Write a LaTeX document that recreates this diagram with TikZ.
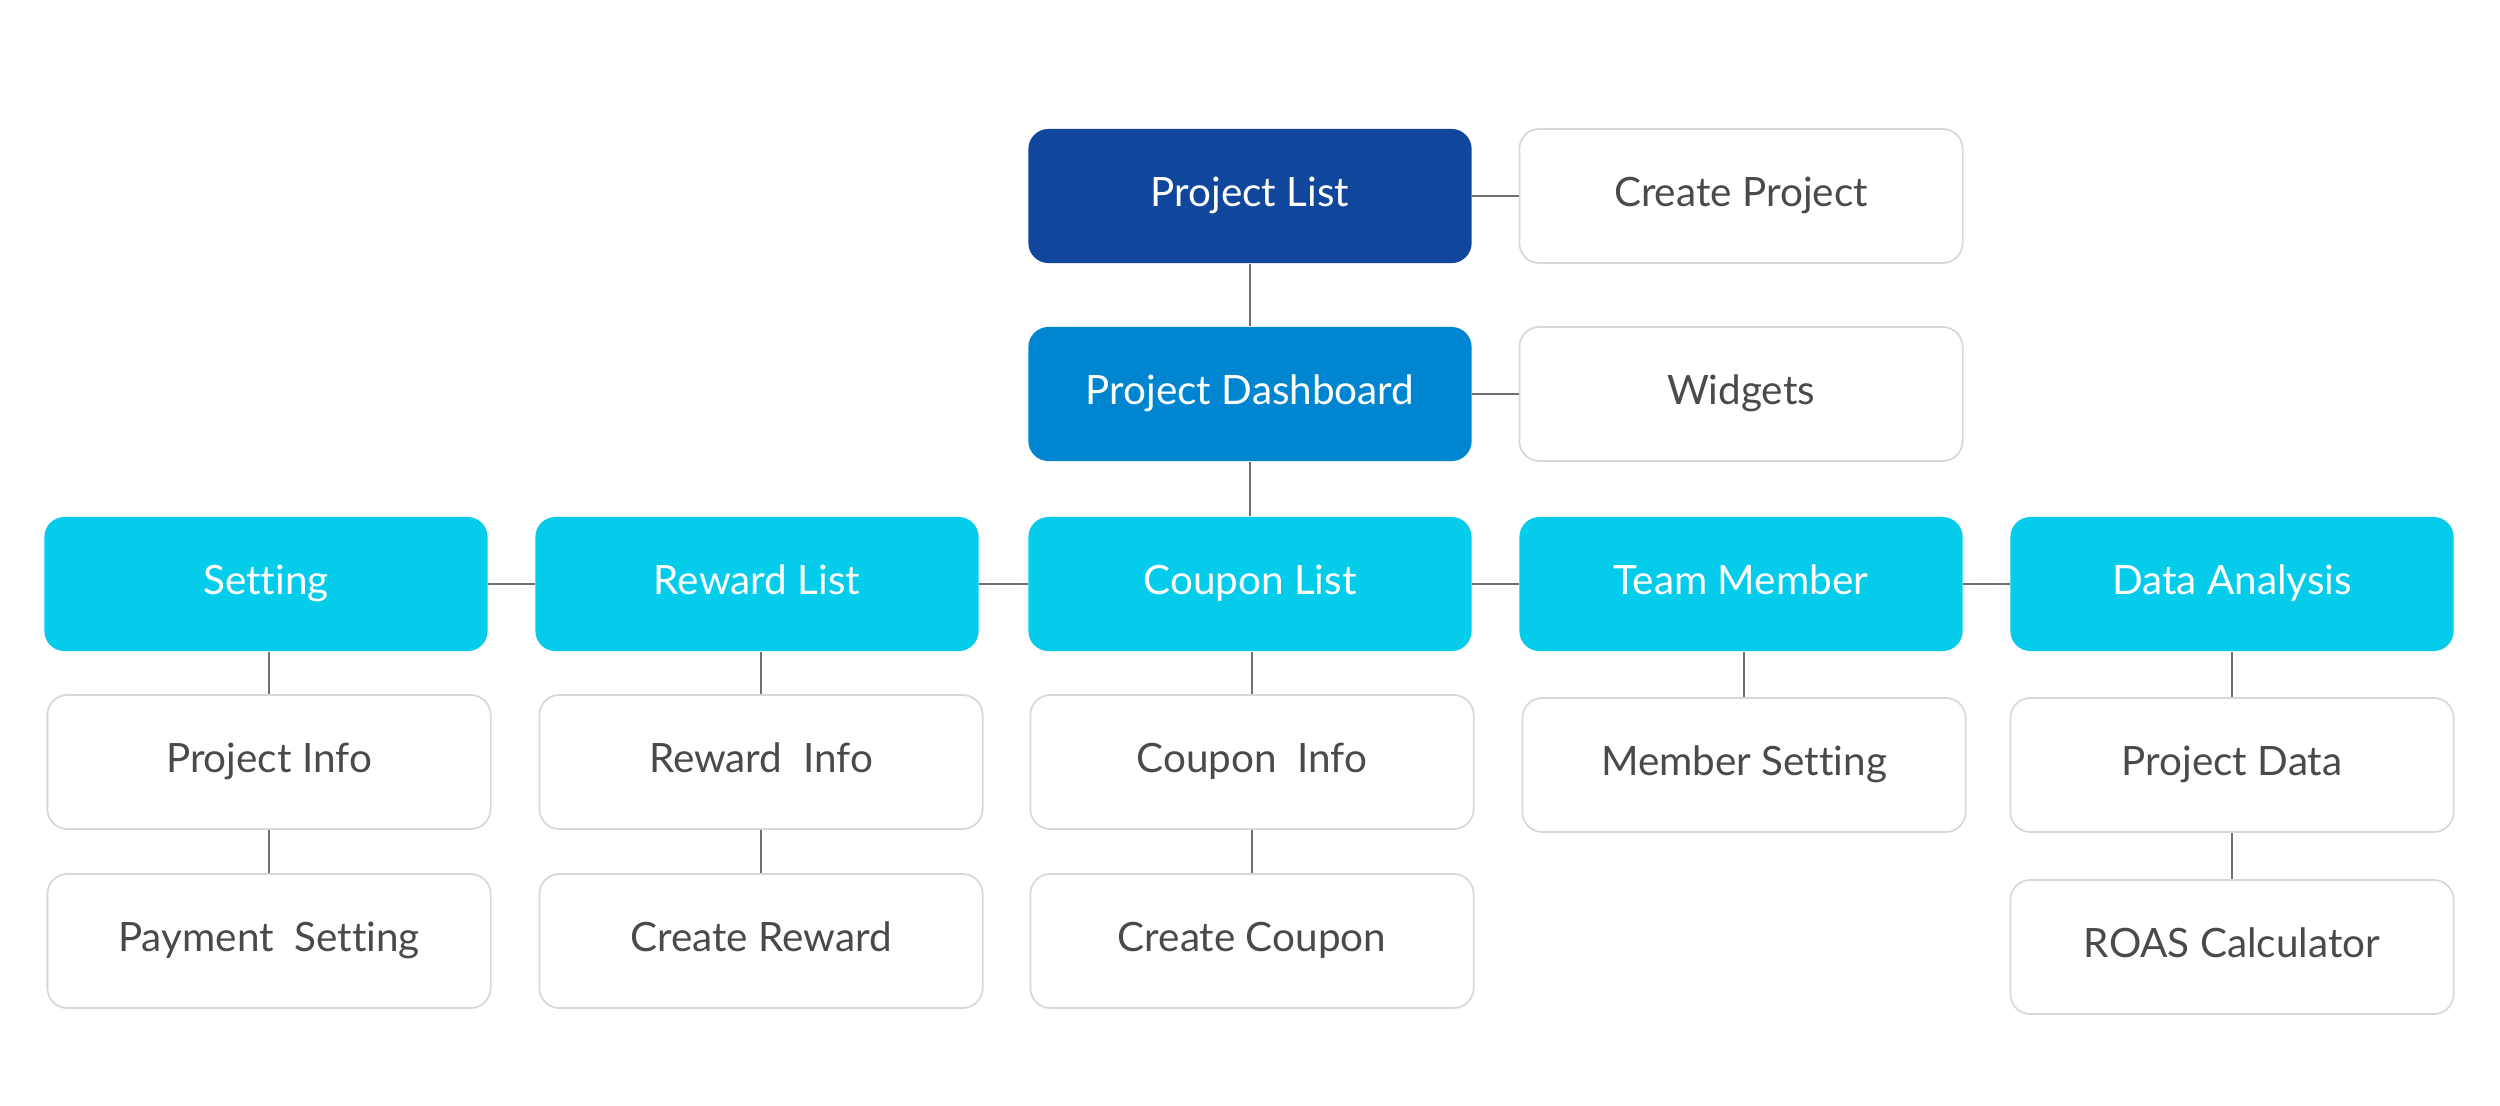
\documentclass[tikz,border=0pt]{standalone}
\usepackage{fontspec}
\setmainfont{Lato}[Ligatures={NoCommon}]
\usetikzlibrary{backgrounds}
\definecolor{dblue}{HTML}{10469B}
\definecolor{mblue}{HTML}{0086D1}
\definecolor{cyanbx}{HTML}{06CCEB}
\definecolor{txtgray}{HTML}{4A4A4A}
\definecolor{bordergray}{HTML}{D8D8D8}
\definecolor{linegray}{HTML}{707070}
\tikzset{
  box/.style={rectangle, rounded corners=0.2cm, minimum width=4.43cm, minimum height=1.34cm,
    font=\fontsize{11.5}{13}\selectfont, inner sep=0pt, text height=1.7ex, text depth=0.5ex},
  darkbox/.style={box, fill=dblue, text=white},
  midbox/.style={box, fill=mblue, text=white},
  cyanbox/.style={box, fill=cyanbx, text=white},
  whitebox/.style={box, fill=white, draw=bordergray, line width=0.5pt, text=txtgray},
  link/.style={draw=linegray, line width=0.35pt}
}
\begin{document}
\begin{tikzpicture}[x=0.01cm, y=-0.01cm]
\useasboundingbox (0,0) rectangle (2500,1105);
\fill[white] (0,0) rectangle (2500,1105);
% row 1-2
\node[darkbox]  (plist)  at (1250,196) {Project List};
\node[whitebox] (create) at (1741,196) {Create Project};
\node[midbox]   (dash)   at (1250,394) {Project Dashboard};
\node[whitebox] (widg)   at (1741,394) {Widgets};
% row 3
\node[cyanbox] (set)  at (266,584)  {Setting};
\node[cyanbox] (rew)  at (757,584)  {Reward List};
\node[cyanbox] (coup) at (1250,584) {Coupon List};
\node[cyanbox] (team) at (1741,584) {Team Member};
\node[cyanbox] (data) at (2232,584) {Data Analysis};
% row 4
\node[whitebox] (pinfo) at (269,762)  {Project Info};
\node[whitebox] (rinfo) at (761,762)  {Reward~~Info};
\node[whitebox] (cinfo) at (1252,762) {Coupon~~Info};
\node[whitebox] (mset)  at (1744,765) {Member Setting};
\node[whitebox] (pdata) at (2232,765) {Project Data};
% row 5
\node[whitebox] (pay)   at (269,941)  {Payment~~Setting};
\node[whitebox] (crew)  at (761,941)  {Create Reward};
\node[whitebox] (ccoup) at (1252,941) {Create Coupon};
\node[whitebox] (roas)  at (2232,947) {ROAS Calculator};
% soft shadows
\begin{scope}[on background layer]
\foreach \n in {plist,create,dash,widg,set,rew,coup,team,data,pinfo,rinfo,cinfo,mset,pdata,pay,crew,ccoup,roas}{
  \foreach \i in {1,...,8}{
    \fill[black, opacity=0.014, rounded corners=0.25cm]
      ([xshift={-\i*0.9pt}, yshift={-6pt+\i*0.5pt}]\n.south west) rectangle
      ([xshift={\i*0.9pt}, yshift={-6pt-\i*1.2pt+12pt}]\n.north east);
  }
}
\end{scope}
% connectors
\draw[link] (plist.south) -- (dash.north);
\draw[link] (plist.east) -- (create.west);
\draw[link] (dash.east) -- (widg.west);
\draw[link] (dash.south) -- (coup.north);
\draw[link] (set.east) -- (rew.west);
\draw[link] (rew.east) -- (coup.west);
\draw[link] (coup.east) -- (team.west);
\draw[link] (team.east) -- (data.west);
\draw[link] (pinfo.north) -- (pinfo.north |- set.south);
\draw[link] (pinfo.south) -- (pinfo.south |- pay.north);
\draw[link] (rinfo.north) -- (rinfo.north |- rew.south);
\draw[link] (rinfo.south) -- (rinfo.south |- crew.north);
\draw[link] (cinfo.north) -- (cinfo.north |- coup.south);
\draw[link] (cinfo.south) -- (cinfo.south |- ccoup.north);
\draw[link] (mset.north) -- (mset.north |- team.south);
\draw[link] (pdata.north) -- (pdata.north |- data.south);
\draw[link] (pdata.south) -- (pdata.south |- roas.north);
\end{tikzpicture}
\end{document}
